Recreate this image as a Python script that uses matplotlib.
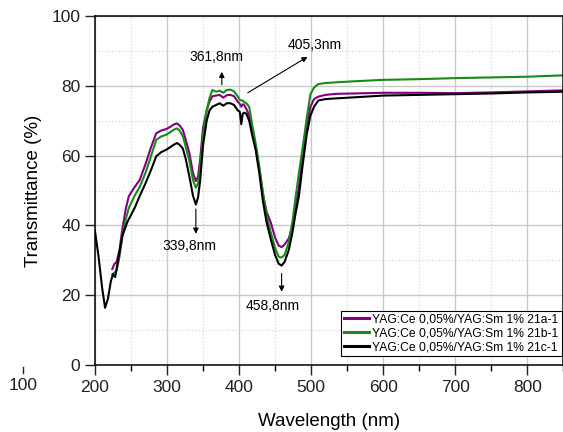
import matplotlib
matplotlib.use("Agg")
import matplotlib.pyplot as plt
from matplotlib.ticker import MultipleLocator

plt.rcParams['font.family'] = ['Liberation Sans', 'DejaVu Sans']

# black curve (21c-1) wavelength grid and values
wl_c = [200, 205, 210, 214, 218, 222, 225, 228, 232, 238, 245, 255, 262, 270,
        278, 285, 292, 299, 305, 310, 314, 318, 322, 326, 331, 336, 340, 343,
        346, 350, 355, 359, 363, 368, 373, 378, 383, 388, 393, 398, 401, 403,
        405, 407, 410, 414, 418, 423, 428, 433, 438, 444, 450, 455, 459, 463,
        469, 474, 478, 483, 488, 494, 499, 504, 510, 520, 535, 560, 600, 650,
        700, 750, 800, 850]
t_c = [38.4, 31, 22, 16.4, 19, 24, 26, 25.2, 30, 37, 41, 45, 48.4, 52,
       56, 59.8, 61, 61.7, 62.5, 63.2, 63.6, 63, 62, 59, 54, 48.5, 46, 48,
       53, 63, 70, 73, 74, 74.5, 75, 74.3, 75, 75, 74.5, 73, 72.5, 69,
       72, 72.3, 72, 70, 66, 61.6, 55, 47, 41, 36, 31.5, 29, 28.5, 29.5,
       33, 38, 43, 48.4, 57, 66.3, 71.5, 74, 75.8, 76.2, 76.4, 76.7, 77.2, 77.4,
       77.6, 77.8, 78.1, 78.3]

# purple (21a-1) and green (21b-1) share a grid starting at 224 nm
wl_ab = [224, 227, 230, 234, 238, 243, 247, 255, 262, 270, 278, 285, 292, 299,
         305, 310, 314, 318, 322, 326, 331, 336, 340, 343, 346, 350, 355, 359,
         363, 368, 373, 378, 383, 388, 393, 398, 401, 403, 405, 407, 410, 414,
         418, 423, 428, 433, 438, 444, 450, 455, 459, 463, 469, 474, 478, 483,
         488, 494, 499, 504, 510, 520, 535, 560, 600, 650, 700, 750, 800, 850]
t_a = [27.5, 29, 29.5, 33, 39, 45, 48.4, 51, 53, 57.5, 62.5, 66.4, 67.2, 67.6,
       68.3, 69, 69.2, 68.5, 67.3, 64.5, 60.7, 55, 52.7, 54, 59, 68, 73, 75.5,
       77, 77.2, 77.4, 76.6, 77.3, 77.4, 77, 75.5, 74.8, 74, 74.7, 74.5, 73.4, 71.5,
       67.5, 62.5, 56, 49, 44, 40.8, 36.5, 34.2, 33.8, 34.5, 36.3, 40, 45, 51,
       60, 69, 74, 76.2, 76.9, 77.4, 77.7, 77.8, 78, 78, 77.9, 78.1, 78.4, 78.7]
t_b = [26, 26.5, 27, 31, 37, 42, 45, 48.5, 51, 55, 60, 64.5, 65.5, 66,
       66.8, 67.5, 67.8, 67, 65.5, 62.5, 58.5, 53, 50.8, 52, 57, 66, 73, 76.5,
       78.8, 78.3, 78.6, 78, 78.8, 78.9, 78.4, 77, 76, 75.8, 75.8, 75.3, 75, 74,
       69, 63.5, 57, 49.5, 43, 38, 33.5, 31, 30.8, 31.5, 35.2, 41, 47.5, 55,
       62, 71, 77.6, 79.5, 80.5, 80.8, 81, 81.3, 81.7, 81.9, 82.2, 82.4, 82.6, 83]

labels = ['YAG:Ce 0,05%/YAG:Sm 1% 21a-1',
          'YAG:Ce 0,05%/YAG:Sm 1% 21b-1',
          'YAG:Ce 0,05%/YAG:Sm 1% 21c-1']
colors = ['#800080', '#178a17', '#000000']

fig = plt.figure(figsize=(5.63, 4.32), dpi=100)
ax = fig.add_axes([0.1687, 0.155, 0.832, 0.808])

ax.plot(wl_ab, t_a, color=colors[0], lw=1.5, label=labels[0])
ax.plot(wl_ab, t_b, color=colors[1], lw=1.5, label=labels[1])
ax.plot(wl_c, t_c, color=colors[2], lw=1.5, label=labels[2])

ax.set_xlim(200, 850)
ax.set_ylim(0, 100)
ax.xaxis.set_major_locator(MultipleLocator(100))
ax.xaxis.set_minor_locator(MultipleLocator(50))
ax.yaxis.set_major_locator(MultipleLocator(20))
ax.yaxis.set_minor_locator(MultipleLocator(10))
ax.grid(which='major', color='#c8c8c8', lw=1.0, ls='-')
ax.grid(which='minor', color='#d0d0d0', lw=0.8, ls=(0, (1, 2)))
ax.set_axisbelow(True)
ax.tick_params(axis='both', which='major', direction='out', length=7,
               width=1, labelsize=12.5, colors='#222222')
ax.tick_params(axis='x', which='minor', direction='out', length=4, width=1)
ax.tick_params(axis='y', which='minor', length=0)
for s in ax.spines.values():
    s.set_linewidth(1.1)

ax.set_xlabel('Wavelength (nm)', fontsize=13.5, labelpad=13)
ax.set_ylabel('Transmittance (%)', fontsize=13.5, labelpad=7)

# stray "100" tick outside the axis, as in the original export
trans = ax.get_xaxis_transform()
ax.plot([100, 100], [-0.005, -0.023], color='#222222', lw=1,
        transform=trans, clip_on=False)
ax.text(100, -0.037, '100', transform=trans, ha='center', va='top',
        fontsize=12.5, color='#222222', clip_on=False)

# peak annotations
arrow = dict(arrowstyle='-|>', color='black', lw=0.8, mutation_scale=8,
             shrinkA=0, shrinkB=0)
ax.annotate('', xy=(376, 84), xytext=(376, 80.3), arrowprops=arrow)
ax.text(369, 88.3, '361,8nm', fontsize=10, ha='center', va='center')
ax.annotate('', xy=(495, 88.3), xytext=(412, 78), arrowprops=arrow)
ax.text(505, 91.7, '405,3nm', fontsize=10, ha='center', va='center')
ax.annotate('', xy=(340, 37.6), xytext=(340, 44.7), arrowprops=arrow)
ax.text(331.6, 34.2, '339,8nm', fontsize=10, ha='center', va='center')
ax.annotate('', xy=(459, 21), xytext=(459, 26.2), arrowprops=arrow)
ax.text(446.5, 17, '458,8nm', fontsize=10, ha='center', va='center')

leg = ax.legend(loc='lower right', bbox_to_anchor=(0.996, 0.025), fontsize=8.7,
                frameon=True, fancybox=False, edgecolor='black',
                framealpha=1, borderpad=0.25, labelspacing=0.15,
                handlelength=2.0, handletextpad=0.3, borderaxespad=0)
leg.get_frame().set_linewidth(0.8)
for line in leg.get_lines():
    line.set_linewidth(2.2)

fig.savefig('out.png', dpi=100)
